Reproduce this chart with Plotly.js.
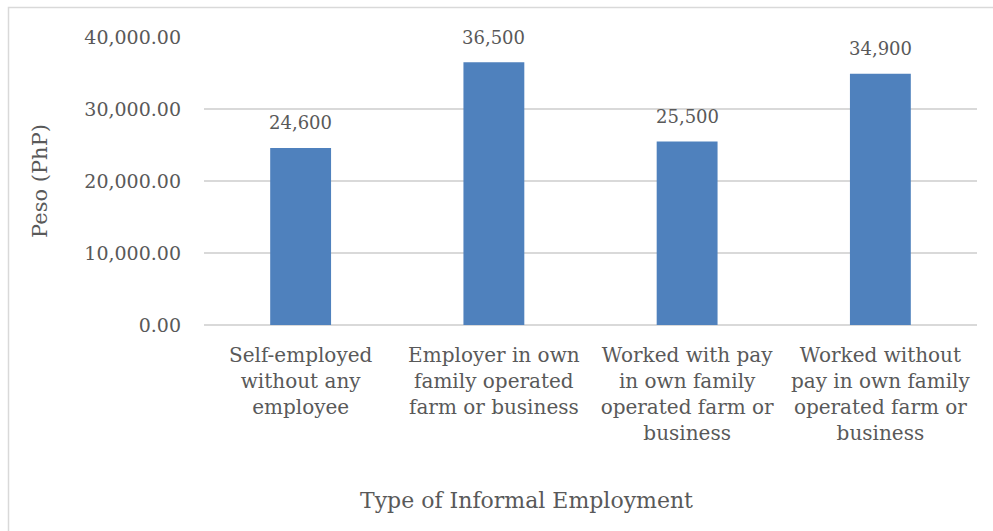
<!DOCTYPE html>
<html>
<head>
<meta charset="utf-8">
<script src="https://cdn.plot.ly/plotly-3.0.1.min.js"></script>
<style>
  html, body { margin: 0; padding: 0; background: #ffffff; }
  #chart { width: 993px; height: 531px; }
</style>
</head>
<body>
<div id="chart"></div>
<script>
// Average monthly income by type of informal employment
const categories = [
  "Self-employed<br>without any<br>employee",
  "Employer in own<br>family operated<br>farm or business",
  "Worked with pay<br>in own family<br>operated farm or<br>business",
  "Worked without<br>pay in own family<br>operated farm or<br>business"
];
const incomes = [24600, 36500, 25500, 34900];
const yTicks = [0, 10000, 20000, 30000, 40000];

const FONT = "DejaVu Serif, serif";
const TEXT = "#595959";

const trace = {
  type: "bar",
  x: categories,
  y: incomes,
  marker: { color: "#4F81BD" },
  hoverinfo: "x+y"
};

// value labels sit above each bar, anchored at the bar's value
const valueLabels = categories.map((c, i) => ({
  x: c,
  y: incomes[i],
  xref: "x",
  yref: "y",
  text: incomes[i].toLocaleString("en-US"),
  showarrow: false,
  yanchor: "middle",
  yshift: 25,
  font: { family: FONT, size: 18, color: TEXT }
}));

const layout = {
  width: 993,
  height: 531,
  margin: { l: 204, r: 16, t: 37, b: 206 },
  paper_bgcolor: "#ffffff",
  plot_bgcolor: "#ffffff",
  font: { family: FONT, size: 19, color: TEXT },
  showlegend: false,
  bargap: 0.685,
  xaxis: {
    type: "category",
    tickfont: { family: FONT, size: 20, color: TEXT },
    ticks: "",
    ticklabelstandoff: 16,
    showline: false,
    showgrid: false,
    zeroline: false,
    automargin: false
  },
  yaxis: {
    range: [0, 40000],
    tickvals: yTicks,
    tickformat: ",.2f",
    tickfont: { family: FONT, size: 19, color: TEXT },
    ticks: "",
    ticklabelstandoff: 22,
    showgrid: true,
    gridcolor: "#D9D9D9",
    gridwidth: 1.3,
    zeroline: true,
    zerolinecolor: "#D9D9D9",
    zerolinewidth: 1.3,
    showline: false,
    automargin: false,
    title: {
      text: "Peso (PhP)",
      font: { family: FONT, size: 21, color: TEXT },
      standoff: 30
    }
  },
  annotations: valueLabels.concat([{
    text: "Type of Informal Employment",
    xref: "paper", yref: "paper",
    x: (526 - 204) / 773, y: (325 - 500) / 288,
    xanchor: "center", yanchor: "middle",
    showarrow: false,
    font: { family: FONT, size: 22, color: TEXT }
  }]),
  shapes: [{
    type: "rect",
    xref: "paper", yref: "paper",
    x0: (8.5 - 204) / 773, x1: 1.2,
    y0: -1, y1: (325 - 7.5) / 288,
    line: { color: "#D9D9D9", width: 1.5 },
    fillcolor: "rgba(0,0,0,0)",
    layer: "below"
  }]
};

Plotly.newPlot("chart", [trace], layout, { displayModeBar: false, staticPlot: true });
</script>
</body>
</html>
